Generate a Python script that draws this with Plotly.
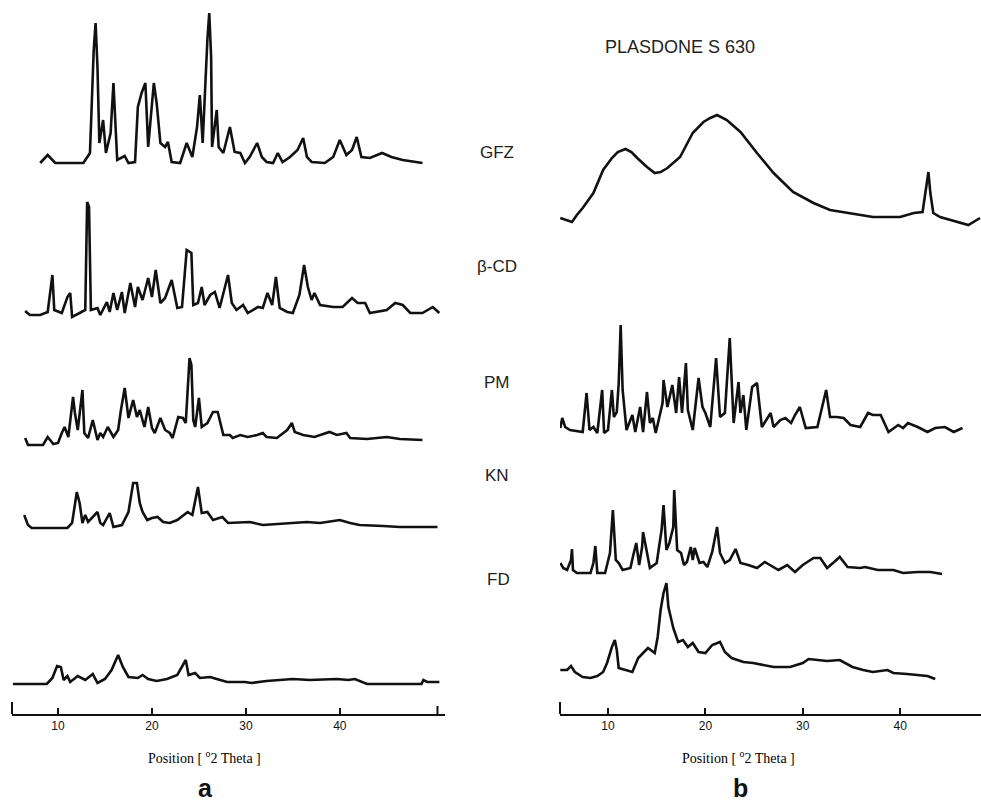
import plotly.graph_objects as go

# ---------------- data (2-theta in degrees, intensity in arbitrary units) -------------
# Panel a
gfz_a_theta = [8.1, 8.9, 9.7, 12.7, 13.4, 13.6, 13.8, 14.0, 14.2, 14.4, 14.5, 14.8, 15.1, 15.6, 15.9, 16.1, 16.3,
               17.1, 17.5, 18.2, 18.5, 18.9, 19.3, 19.6, 19.9, 20.2, 20.5, 20.9, 21.4, 21.7, 22.1, 23.0, 23.7, 24.3,
               24.8, 25.1, 25.4, 25.7, 25.9, 26.1, 26.3, 26.4, 26.7, 26.9, 27.1, 27.6, 28.3, 28.8, 29.4, 29.9, 30.4,
               31.2, 31.7, 32.2, 32.9, 33.4, 33.9, 34.7, 35.5, 36.1, 36.5, 37.0, 38.4, 39.3, 40.0, 40.7, 41.3, 41.8,
               42.3, 43.2, 44.5, 45.5, 46.7, 48.2, 48.8]
gfz_a_int = [0, 8, 0, 0, 10, 60, 113, 140, 96, 20, 25, 43, 10, 30, 80, 45, 3,
             7, 0, 1, 56, 70, 80, 16, 50, 80, 60, 20, 16, 21, 1, 0, 20, 6,
             36, 68, 20, 90, 123, 150, 106, 16, 40, 53, 16, 10, 36, 11, 10, 0, 6,
             20, 6, 1, 0, 10, 1, 6, 13, 25, 6, 1, 0, 6, 23, 8, 13, 26,
             6, 5, 10, 6, 3, 1, 0]

bcd_a_theta = [6.5, 7.0, 8.1, 8.9, 9.4, 9.6, 10.4, 11.0, 11.3, 11.5, 12.3, 12.9, 13.1, 13.3, 13.5, 14.2, 14.5,
               15.2, 15.5, 15.9, 16.3, 16.8, 17.1, 17.7, 18.2, 18.5, 19.0, 19.6, 20.0, 20.4, 20.9, 21.4, 22.1,
               22.7, 23.2, 23.7, 24.2, 24.4, 24.9, 25.3, 25.6, 26.2, 26.7, 27.2, 28.1, 28.5, 29.0, 29.7, 30.2,
               31.3, 31.8, 32.3, 32.8, 33.2, 33.6, 34.4, 35.0, 35.7, 36.2, 36.6, 37.0, 37.3, 37.9, 39.3, 40.3,
               41.3, 41.9, 42.7, 43.2, 44.0, 45.0, 45.9, 46.7, 47.5, 48.8, 49.9, 50.6]
bcd_a_int = [2, -2, -2, 1, 38, 3, 0, 16, 20, -4, 0, 3, 111, 106, 3, 5, -2,
             11, 1, 20, 3, 21, 0, 30, 6, 26, 13, 35, 16, 43, 10, 15, 33,
             5, 6, 63, 60, 8, 10, 26, 8, 18, 21, 5, 38, 10, 3, 8, 0,
             6, 5, 20, 8, 36, 5, 1, 0, 18, 48, 26, 13, 20, 8, 6, 6,
             15, 10, 10, 0, 1, 3, 10, 8, 0, 0, 6, 0]

pm_a_theta = [6.5, 6.8, 8.4, 8.9, 9.5, 10.0, 10.4, 10.7, 11.1, 11.6, 11.8, 12.1, 12.6, 12.8, 13.2, 13.7, 14.2,
              14.5, 14.8, 15.3, 15.9, 16.4, 16.7, 17.1, 17.5, 18.0, 18.4, 18.7, 19.2, 19.6, 20.0, 20.3, 20.9,
              21.4, 21.9, 22.2, 22.8, 23.3, 23.6, 23.8, 24.0, 24.2, 24.4, 24.6, 25.0, 25.3, 25.9, 26.5, 27.0,
              27.6, 28.3, 28.6, 29.4, 30.2, 31.2, 31.8, 32.2, 33.3, 34.4, 34.9, 35.2, 36.1, 37.3, 38.9, 39.7,
              40.7, 41.1, 42.9, 45.0, 46.4, 48.8]
pm_a_int = [7, 0, 0, 8, 1, 2, 12, 18, 8, 48, 32, 15, 55, 12, 7, 25, 5,
            12, 8, 18, 8, 15, 35, 57, 27, 45, 28, 35, 18, 38, 17, 12, 27,
            15, 12, 7, 28, 27, 22, 53, 87, 80, 25, 18, 47, 18, 22, 33, 33,
            10, 10, 7, 10, 8, 10, 12, 8, 7, 15, 22, 13, 10, 8, 13, 10,
            12, 7, 6, 8, 6, 5]

kn_a_theta = [6.4, 6.8, 7.2, 11.0, 11.5, 11.8, 12.0, 12.3, 12.6, 12.9, 13.2, 14.2, 14.5, 14.8, 15.5, 15.9,
              16.8, 17.5, 18.0, 18.4, 18.7, 19.0, 19.5, 20.0, 20.6, 21.2, 21.9, 22.7, 23.8, 24.3, 24.9, 25.3,
              25.9, 26.5, 27.5, 28.1, 30.4, 31.8, 34.4, 36.5, 37.9, 40.0, 41.1, 42.1, 44.6, 46.4, 48.5, 50.4]
kn_a_int = [13, 3, 0, 0, 5, 25, 36, 25, 5, 13, 6, 16, 5, 3, 15, 1,
            3, 16, 45, 45, 25, 16, 8, 10, 11, 6, 5, 8, 16, 13, 41, 15,
            16, 8, 11, 5, 6, 3, 5, 6, 5, 8, 5, 3, 2, 1, 1, 1]

fd_a_theta = [5.2, 8.8, 9.4, 9.9, 10.3, 10.6, 11.0, 11.3, 12.1, 12.9, 13.7, 14.2, 15.0, 15.7, 16.4, 16.9,
              17.5, 18.5, 19.0, 19.6, 20.5, 21.6, 22.7, 23.6, 23.9, 24.6, 25.1, 26.2, 26.9, 28.0, 29.9, 30.6,
              32.2, 35.0, 36.8, 39.7, 40.9, 41.6, 42.9, 48.7, 48.9, 49.3, 50.6]
fd_a_int = [0, 0, 6, 18, 17, 4, 8, 2, 8, 4, 10, 1, 5, 14, 29, 17,
            7, 6, 9, 5, 3, 5, 9, 24, 9, 11, 6, 7, 5, 2, 2, 1,
            3, 5, 4, 5, 4, 5, 0, 0, 4, 2, 2]

# Panel b
pls_b_theta = [5.1, 6.3, 6.8, 7.4, 8.5, 9.5, 10.4, 11.0, 11.8, 12.4, 13.0, 14.0, 14.8, 15.4, 16.1, 17.4, 18.7,
               19.8, 20.5, 21.2, 22.2, 23.6, 25.3, 27.0, 29.0, 31.1, 32.8, 34.9, 37.2, 40.0, 41.4, 42.3, 42.6,
               42.9, 43.1, 43.4, 44.1, 45.9, 47.0, 48.2]
pls_b_int = [4, 0, 7, 14, 29, 52, 64, 70, 73, 70, 64, 55, 49, 50, 54, 65, 89,
             100, 104, 107, 102, 90, 69, 49, 30, 19, 12, 9, 5, 5, 9, 10, 29,
             50, 29, 9, 5, 0, -3, 4]

pm_b_theta = [5.1, 5.3, 5.6, 6.1, 7.4, 7.8, 8.1, 8.5, 8.9, 9.4, 9.6, 10.0, 10.4, 10.6, 10.9, 11.1, 11.3,
              11.5, 11.9, 12.5, 12.8, 13.3, 13.6, 14.0, 14.3, 14.6, 14.9, 15.6, 15.7, 16.1, 16.6, 17.0, 17.3,
              17.6, 18.0, 18.2, 18.7, 19.3, 19.7, 20.0, 20.5, 21.1, 21.5, 22.0, 22.5, 22.9, 23.4, 23.6, 23.9,
              24.2, 24.8, 25.3, 25.8, 26.7, 27.0, 27.7, 28.2, 28.8, 29.2, 29.7, 30.3, 31.5, 32.4, 32.8, 33.5,
              34.2, 34.9, 35.9, 36.7, 37.2, 38.0, 38.8, 39.8, 40.3, 40.8, 41.8, 42.8, 43.6, 44.6, 45.5, 46.4]
pm_b_int = [5, 15, 6, 3, 1, 40, 3, 6, 0, 43, 0, 3, 43, 16, 21, 50, 108,
            43, 3, 18, 1, 26, 1, 41, 10, 15, 0, 30, 53, 26, 48, 20, 56,
            20, 70, 23, 3, 55, 26, 20, 6, 75, 16, 20, 95, 10, 51, 20, 38,
            3, 46, 50, 6, 20, 6, 13, 15, 10, 18, 26, 5, 6, 43, 16, 16,
            15, 8, 6, 20, 18, 18, 1, 8, 5, 10, 6, 1, 5, 6, 1, 5]

kn_b_theta = [5.1, 5.4, 5.8, 6.2, 6.3, 6.4, 6.8, 8.2, 8.5, 8.7, 8.9, 9.7, 10.2, 10.5, 10.8, 11.1, 11.5,
              12.3, 12.6, 12.9, 13.2, 13.5, 13.6, 13.9, 14.3, 15.0, 15.5, 15.7, 16.0, 16.3, 16.7, 16.8, 17.1,
              17.5, 17.8, 18.1, 18.5, 18.7, 18.9, 19.4, 19.8, 20.2, 20.7, 21.2, 21.5, 22.0, 22.5, 23.1, 23.6,
              24.4, 25.3, 26.1, 26.9, 27.5, 28.4, 29.2, 30.0, 31.1, 31.8, 32.5, 33.1, 33.8, 34.6, 35.9, 36.4,
              37.7, 39.3, 40.3, 41.8, 43.1, 44.3]
kn_b_int = [10, 5, 3, 13, 24, 3, 0, 0, 10, 27, 0, 0, 20, 63, 13, 10, 3,
            5, 18, 30, 8, 26, 41, 26, 5, 10, 43, 68, 23, 30, 46, 83, 23,
            20, 8, 11, 26, 13, 25, 10, 11, 6, 21, 46, 20, 10, 13, 24, 10,
            8, 5, 11, 6, 3, 8, 1, 8, 15, 15, 5, 10, 16, 6, 5, 6,
            3, 3, 0, 1, 1, -1]

fd_b_theta = [5.1, 5.8, 6.2, 6.6, 7.4, 8.2, 8.9, 9.5, 9.9, 10.4, 10.7, 10.9, 11.1, 11.8, 12.5, 13.1, 14.1,
              14.8, 15.1, 15.4, 15.7, 16.0, 16.2, 16.7, 17.2, 17.7, 18.2, 18.7, 19.3, 20.0, 20.7, 21.5, 22.0,
              22.7, 23.9, 24.9, 25.9, 27.0, 28.7, 30.0, 30.6, 32.5, 33.8, 35.1, 36.2, 37.2, 38.7, 39.3, 40.7,
              42.1, 42.8, 43.6]
fd_b_int = [10, 10, 14, 8, 3, 2, 4, 8, 17, 33, 40, 30, 12, 10, 8, 22, 32,
            27, 43, 70, 87, 97, 73, 52, 38, 40, 33, 37, 28, 27, 35, 38, 28,
            22, 18, 17, 15, 13, 13, 17, 21, 19, 20, 13, 10, 8, 10, 7, 6,
            5, 4, 1]

tick_vals = [10, 20, 30, 40]
tick_text = ["10", "20", "30", "40"]

# ---------------- layout constants (pixels of the 981x803 page) ----------------
W, H = 981, 803
ML, MB = 12, 89
PLOT_W, PLOT_H = W - ML, H - MB


def px(xp):
    return (xp - ML) / PLOT_W


def py(yp):
    return (PLOT_H - yp) / PLOT_H


# vertical offsets of the stacked patterns (y-axis units)
panel_a = [
    (gfz_a_theta, gfz_a_int, 551, "GFZ"),
    (bcd_a_theta, bcd_a_int, 401, "β-CD"),
    (pm_a_theta, pm_a_int, 269, "PM"),
    (kn_a_theta, kn_a_int, 186, "KN"),
    (fd_a_theta, fd_a_int, 30, "FD"),
]
panel_b = [
    (pls_b_theta, pls_b_int, 492, "PLASDONE S 630"),
    (pm_b_theta, pm_b_int, 281, "PM"),
    (kn_b_theta, kn_b_int, 141, "KN"),
    (fd_b_theta, fd_b_int, 34, "FD"),
]

LINE = dict(color="#111111", width=2.6)
INK = "#111111"

fig = go.Figure()
for th, it, off, name in panel_a:
    fig.add_trace(go.Scatter(x=th, y=[v + off for v in it], mode="lines", line=LINE,
                             name=name, xaxis="x", yaxis="y", showlegend=False))
for th, it, off, name in panel_b:
    fig.add_trace(go.Scatter(x=th, y=[v + off for v in it], mode="lines", line=LINE,
                             name=name, xaxis="x2", yaxis="y", showlegend=False))

axis_style = dict(showline=True, linecolor=INK, linewidth=2, ticks="inside", ticklen=6,
                  tickwidth=2, tickcolor=INK, showgrid=False, zeroline=False,
                  tickfont=dict(family="Arial, Liberation Sans, sans-serif", size=12, color=INK),
                  anchor="y", fixedrange=True, tickvals=tick_vals, ticktext=tick_text)

fig.update_layout(
    width=W, height=H,
    margin=dict(l=ML, r=0, t=0, b=MB),
    paper_bgcolor="white", plot_bgcolor="white",
    xaxis=dict(domain=[0, px(445)], range=[5.1, 51.2], **axis_style),
    xaxis2=dict(domain=[px(560), 1], range=[5.07, 48.3], **axis_style),
    yaxis=dict(domain=[0, 1], range=[0, PLOT_H], visible=False, fixedrange=True),
    shapes=[
        dict(type="line", xref="x domain", yref="y", x0=0, x1=0, y0=0, y1=12,
             line=dict(color=INK, width=2)),
        dict(type="line", xref="x", yref="y", x0=50.4, x1=50.4, y0=0, y1=8,
             line=dict(color=INK, width=2)),
        dict(type="line", xref="x2 domain", yref="y", x0=0, x1=0, y0=0, y1=12,
             line=dict(color=INK, width=2)),
    ],
)

label_font = dict(family="Arial, Liberation Sans, sans-serif", size=17, color="#222222")
ann = []
for (name, xp, yp) in [("GFZ", 497, 152), ("β-CD", 497, 266), ("PM", 497, 382),
                       ("KN", 497, 475), ("FD", 499, 579)]:
    ann.append(dict(text=name, x=px(xp), y=py(yp), xref="paper", yref="paper",
                    showarrow=False, font=label_font, xanchor="center", yanchor="middle"))
ann.append(dict(text="PLASDONE S 630", x=px(680), y=py(47), xref="paper", yref="paper",
                showarrow=False, font=dict(family="Arial, Liberation Sans, sans-serif", size=18,
                                           color="#222222"),
                xanchor="center", yanchor="middle"))
pos_font = dict(family="Liberation Serif, Times New Roman, serif", size=14, color="#000000")
for xp in (204, 738):
    ann.append(dict(text="Position [ <sup>o</sup>2 Theta ]", x=px(xp), y=py(757), xref="paper",
                    yref="paper", showarrow=False, font=pos_font, xanchor="center", yanchor="middle"))
for txt, xp in (("a", 205), ("b", 740)):
    ann.append(dict(text="<b>" + txt + "</b>", x=px(xp), y=py(788), xref="paper", yref="paper",
                    showarrow=False, font=dict(family="Arial, Liberation Sans, sans-serif", size=25,
                                               color=INK),
                    xanchor="center", yanchor="middle"))
fig.update_layout(annotations=ann)

fig.write_html("out.html")
